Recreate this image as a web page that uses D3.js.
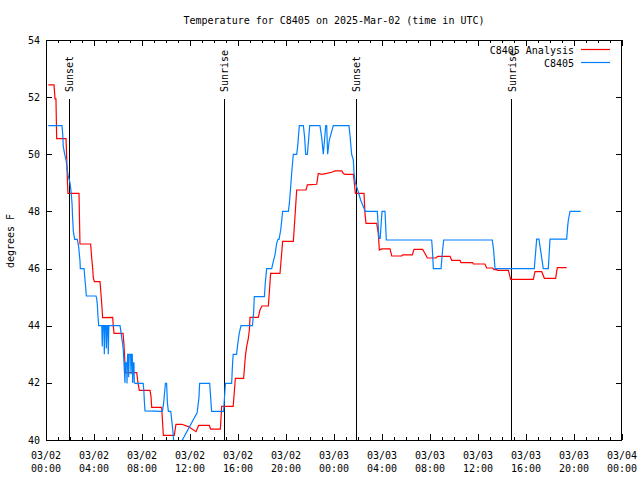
<!DOCTYPE html>
<html><head><meta charset="utf-8">
<script src="https://cdn.jsdelivr.net/npm/d3@7"></script>
<style>
body{margin:0;background:#fff}
svg text{font-family:"DejaVu Sans Mono","Liberation Mono",monospace;font-size:10px;fill:#000}
</style></head><body>
<svg id="c" width="640" height="480"></svg>
<script>
// ---------- data ----------
const startUTC = Date.UTC(2025, 2, 2);
const titleText = "Temperature for C8405 on 2025-Mar-02 (time in UTC)";
const yAxisLabel = "degrees F";
const seriesNames = ["C8405 Analysis", "C8405"];
const seriesColors = ["#ff0000", "#0080ff"];
const yTicks = [40, 42, 44, 46, 48, 50, 52, 54];
const xTickHours = [0, 4, 8, 12, 16, 20, 24, 28, 32, 36, 40, 44, 48];
const sunHours = [1.89, 14.83, 25.83, 38.78];
const sunLabels = ["Sunset", "Sunrise", "Sunset", "Sunrise"];

// hours since 03/02 00:00 UTC
const analysisHours = [0.19,0.67,0.75,0.83,0.89,1.67,1.72,1.78,1.83,2.75,2.83,3.72,3.81,3.89,3.94,4.03,4.5,4.58,4.67,4.72,5.56,5.61,5.67,6.42,6.5,6.62,7.56,7.67,7.78,8.67,8.75,8.81,9.64,9.72,9.78,10.69,10.83,11.31,11.86,12.5,12.72,13.61,13.72,14.53,14.64,15.6,15.78,16.47,16.61,16.72,16.86,16.95,17.0,17.69,17.83,18.0,18.53,18.72,19.5,19.72,20.61,20.75,20.89,21.67,21.78,22.56,22.69,22.97,23.39,23.81,24.08,24.64,24.78,24.92,25.61,25.67,25.78,26.5,26.58,26.67,27.56,27.69,27.78,27.97,28.67,28.81,29.64,29.72,30.53,30.67,31.39,31.58,31.78,32.5,32.64,33.67,33.81,34.5,34.58,35.56,35.61,36.58,36.72,37.22,37.33,37.56,37.61,38.53,38.72,40.61,40.75,41.31,41.53,42.47,42.61,43.39];
const analysisTemps = [52.43,52.43,51.94,51.94,50.55,50.55,49.92,49.1,48.63,48.63,46.86,46.86,46.36,46.01,45.68,45.54,45.54,45.13,44.61,44.28,44.29,43.97,43.73,43.73,43.33,42.36,42.36,41.98,41.74,41.74,41.52,41.14,41.14,40.58,40.16,40.16,40.55,40.55,40.47,40.29,40.51,40.51,40.38,40.38,41.18,41.18,42.16,42.16,42.92,43.27,43.56,43.85,44.29,44.29,44.55,44.69,44.69,45.83,45.83,46.95,46.95,47.82,48.75,48.75,48.93,48.95,49.33,49.3,49.33,49.37,49.42,49.42,49.33,49.3,49.3,49.1,48.63,48.63,47.93,47.58,47.58,47.23,46.65,46.69,46.69,46.44,46.44,46.48,46.48,46.67,46.67,46.53,46.37,46.37,46.43,46.43,46.29,46.29,46.21,46.21,46.16,46.16,46.02,46.02,45.96,45.96,45.94,45.94,45.62,45.62,45.89,45.89,45.66,45.66,46.03,46.03];

const obsHours = [0.19,1.33,1.39,1.44,1.56,1.67,1.83,2.0,2.08,2.17,2.22,2.28,2.39,2.61,2.72,2.83,2.86,3.17,3.25,3.31,3.36,4.17,4.22,4.28,4.33,4.39,4.65,4.69,4.74,4.83,4.86,4.91,5.0,5.03,5.08,5.15,5.19,5.24,6.17,6.28,6.39,6.44,6.5,6.58,6.61,6.72,6.75,6.8,6.86,6.89,6.94,7.05,7.08,7.13,7.19,7.22,7.27,7.33,7.36,7.45,8.1,8.15,8.2,8.25,9.7,9.8,9.95,10.05,10.12,10.2,10.4,10.5,10.6,10.72,12.6,12.75,12.8,13.64,13.72,13.8,14.8,14.95,15.47,15.55,15.6,15.88,15.97,16.1,16.25,17.2,17.3,17.36,18.2,18.27,18.39,18.81,18.94,19.08,19.22,19.33,19.42,19.56,19.72,20.2,20.28,20.36,20.47,20.61,20.89,20.97,21.11,21.45,21.55,21.64,21.78,21.9,21.97,22.83,22.97,23.11,23.31,23.39,23.47,23.61,23.94,25.25,25.33,25.47,25.61,25.67,25.78,26.0,26.22,26.44,26.61,27.61,27.75,27.85,28.0,28.25,28.36,32.14,32.2,32.28,32.92,33.05,33.14,37.19,37.3,37.42,40.69,40.89,41.08,41.25,41.44,41.86,42.0,43.39,43.47,43.53,43.67,44.56];
const obsTemps = [51.0,51.0,50.73,50.27,50.0,49.8,49.28,49.0,48.73,48.28,47.76,47.29,47.02,47.02,46.77,46.28,46.0,46.0,45.6,45.31,45.04,45.04,44.96,44.73,44.34,44.0,44.0,43.27,44.0,44.0,43.0,44.0,44.0,43.2,44.0,44.0,43.0,44.0,44.0,43.67,43.35,43.15,42.7,42.0,42.7,42.7,41.98,43.0,43.0,42.2,43.0,43.0,42.3,43.0,43.0,42.0,42.7,42.7,42.0,41.98,41.98,41.74,41.34,41.02,41.0,41.28,41.98,41.98,41.28,41.0,41.0,40.6,40.2,39.5,40.96,41.5,41.98,41.98,41.5,41.0,41.0,41.98,41.98,42.7,43.0,43.0,43.33,43.73,44.0,44.0,44.43,45.02,45.02,45.48,46.0,46.0,46.24,46.48,46.88,47.02,47.02,47.35,48.0,48.0,48.28,48.69,49.33,50.0,50.0,50.27,51.0,51.0,50.6,50.0,50.0,50.6,51.0,51.0,50.6,50.0,51.0,51.0,50.0,50.5,51.0,51.0,50.68,50.0,49.8,49.33,49.0,48.72,48.4,48.17,48.0,48.0,47.06,47.06,48.0,48.0,47.0,47.0,46.65,46.0,46.0,46.65,47.0,47.0,46.65,46.0,46.0,47.03,47.03,46.54,46.0,46.0,47.03,47.03,47.47,47.7,48.0,48.0];

// ---------- layout ----------
const W = 640, H = 480;
const M = {left: 46, right: 622, top: 40, bottom: 440};
const hourToDate = h => new Date(startUTC + h * 3600e3);

const x = d3.scaleUtc()
  .domain([hourToDate(0), hourToDate(48)])
  .range([M.left, M.right]);
const y = d3.scaleLinear().domain([40, 54]).range([M.bottom, M.top]);

const svg = d3.select("#c");
svg.append("rect").attr("width", W).attr("height", H).attr("fill", "#fff");

svg.append("defs").append("clipPath").attr("id", "plotclip")
  .append("rect").attr("x", M.left).attr("y", M.top)
  .attr("width", M.right - M.left).attr("height", M.bottom - M.top);

// minor ticks every hour on x
const minorHours = d3.range(0, 49).filter(h => h % 4 !== 0);
const axG = svg.append("g").attr("shape-rendering", "crispEdges");
function xAxisTicks(values, len) {
  axG.append("g").attr("transform", `translate(0,${M.bottom})`)
    .call(d3.axisBottom(x).tickValues(values.map(hourToDate)).tickSize(-len).tickFormat(""))
    .call(g => g.select(".domain").remove());
  axG.append("g").attr("transform", `translate(0,${M.top})`)
    .call(d3.axisTop(x).tickValues(values.map(hourToDate)).tickSize(-len).tickFormat(""))
    .call(g => g.select(".domain").remove());
}
xAxisTicks(xTickHours, 6);
xAxisTicks(minorHours, 3);
axG.append("g").attr("transform", `translate(${M.left},0)`)
  .call(d3.axisLeft(y).tickValues(yTicks).tickSize(-6).tickFormat(""))
  .call(g => g.select(".domain").remove());
axG.append("g").attr("transform", `translate(${M.right},0)`)
  .call(d3.axisRight(y).tickValues(yTicks).tickSize(-6).tickFormat(""))
  .call(g => g.select(".domain").remove());
axG.selectAll("line").attr("stroke", "#000");

// y tick labels
svg.append("g").selectAll("text").data(yTicks).join("text")
  .attr("x", M.left - 6).attr("y", d => y(d) + 3.5)
  .attr("text-anchor", "end").text(d => d);

// x tick labels (two lines)
const fmtDay = d3.utcFormat("%m/%d"), fmtTime = d3.utcFormat("%H:%M");
const xl = svg.append("g").selectAll("text").data(xTickHours).join("text")
  .attr("text-anchor", "middle");
xl.append("tspan").attr("x", d => x(hourToDate(d))).attr("y", 459).text(d => fmtDay(hourToDate(d)));
xl.append("tspan").attr("x", d => x(hourToDate(d))).attr("y", 472).text(d => fmtTime(hourToDate(d)));

// sunrise/sunset markers
const sunG = svg.append("g");
sunG.selectAll("line").data(sunHours).join("line")
  .attr("x1", d => Math.round(x(hourToDate(d))) + 0.5)
  .attr("x2", d => Math.round(x(hourToDate(d))) + 0.5)
  .attr("y1", M.top + 0.148 * (M.bottom - M.top)).attr("y2", M.bottom)
  .attr("stroke", "#000").attr("stroke-width", 1).attr("shape-rendering", "crispEdges");
sunG.selectAll("text").data(sunHours).join("text")
  .attr("transform", d => `translate(${x(hourToDate(d)) + 4.5},${M.top + 0.13 * (M.bottom - M.top)}) rotate(-90)`)
  .attr("text-anchor", "start")
  .text((d, i) => sunLabels[i]);

// series
const line = d3.line().x(d => x(hourToDate(d[0]))).y(d => y(d[1])).curve(d3.curveLinear);
const dataG = svg.append("g").attr("clip-path", "url(#plotclip)");
const series = [
  d3.zip(analysisHours, analysisTemps),
  d3.zip(obsHours, obsTemps)
];
series.forEach((s, i) => {
  dataG.append("path").datum(s).attr("d", line)
    .attr("fill", "none").attr("stroke", seriesColors[i])
    .attr("stroke-width", 1.2).attr("stroke-linejoin", "miter");
});

// frame
svg.append("rect").attr("x", M.left + 0.5).attr("y", M.top + 0.5)
  .attr("width", M.right - M.left - 1).attr("height", M.bottom - M.top)
  .attr("fill", "none").attr("stroke", "#000").attr("shape-rendering", "crispEdges");

// legend
const lg = svg.append("g");
seriesNames.forEach((name, i) => {
  const ly = 50 + i * 13;
  lg.append("text").attr("x", 574).attr("y", ly + 3.5).attr("text-anchor", "end").text(name);
  lg.append("line").attr("x1", 581).attr("x2", 610).attr("y1", ly - 0.5).attr("y2", ly - 0.5)
    .attr("stroke", seriesColors[i]).attr("stroke-width", 1.2);
});

// title & y label
svg.append("text").attr("x", 334).attr("y", 23.5).attr("text-anchor", "middle").text(titleText);
svg.append("text").attr("transform", `translate(14,241) rotate(-90)`)
  .attr("text-anchor", "middle").text(yAxisLabel);
</script>
</body></html>
